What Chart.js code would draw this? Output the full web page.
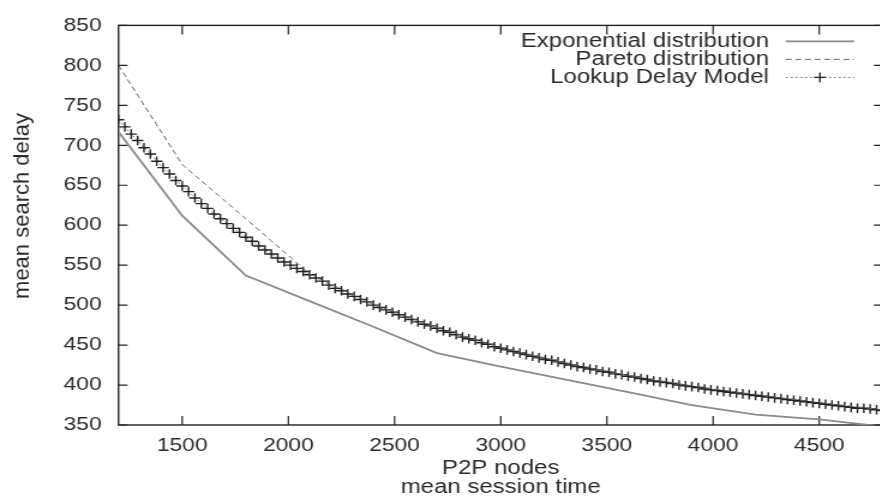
<!DOCTYPE html>
<html lang="en">
<head>
<meta charset="UTF-8">
<title>Mean search delay vs mean session time</title>
<script src="https://cdn.jsdelivr.net/npm/chart.js"></script>
<style>
  html, body { margin: 0; padding: 0; background: #fff; overflow: hidden; }
  /* the scanned figure is wider than tall: draw narrow, stretch horizontally */
  .wrap { width: 742px; height: 499px; transform: scaleX(1.2); transform-origin: 0 0; }
</style>
</head>
<body>
<div class="wrap"><canvas id="delayChart"></canvas></div>
<script>
const STRETCH = 1.2;

const xTicks = [1500, 2000, 2500, 3000, 3500, 4000, 4500];
const yTicks = [350, 400, 450, 500, 550, 600, 650, 700, 750, 800, 850];
const seriesNames = ['Exponential distribution', 'Pareto distribution', 'Lookup Delay Model'];

// simulated points (every 300 units of session time)
const sessionTimes = [1200, 1500, 1800, 2100, 2400, 2700, 3000, 3300, 3600, 3900, 4200, 4500, 4800];
const expDelay =     [717, 612, 537, 505, 473, 440, 423, 407, 391, 375, 363, 357, 348];
const paretoDelay =  [800, 676, 608, 539, 501, 472, 447, 428, 412, 399, 388, 378, 369];

// model curve, sampled densely
const modelTimes = [
  1200, 1230, 1260, 1290, 1320, 1350, 1380, 1410, 1440, 1470,
  1500, 1530, 1560, 1590, 1620, 1650, 1680, 1710, 1740, 1770,
  1800, 1830, 1860, 1890, 1920, 1950, 1980, 2010, 2040, 2070,
  2100, 2130, 2160, 2190, 2220, 2250, 2280, 2310, 2340, 2370,
  2400, 2430, 2460, 2490, 2520, 2550, 2580, 2610, 2640, 2670,
  2700, 2730, 2760, 2790, 2820, 2850, 2880, 2910, 2940, 2970,
  3000, 3030, 3060, 3090, 3120, 3150, 3180, 3210, 3240, 3270,
  3300, 3330, 3360, 3390, 3420, 3450, 3480, 3510, 3540, 3570,
  3600, 3630, 3660, 3690, 3720, 3750, 3780, 3810, 3840, 3870,
  3900, 3930, 3960, 3990, 4020, 4050, 4080, 4110, 4140, 4170,
  4200, 4230, 4260, 4290, 4320, 4350, 4380, 4410, 4440, 4470,
  4500, 4530, 4560, 4590, 4620, 4650, 4680, 4710, 4740, 4770,
  4800
];
const modelDelay = [
  732, 723, 714, 706, 697, 689, 680, 672, 664, 656,
  649, 642, 634, 627, 621, 614, 608, 602, 596, 591,
  585, 580, 574, 569, 564, 559, 554, 550, 546, 542,
  538, 534, 530, 525, 521, 518, 514, 511, 507, 504,
  500, 497, 494, 491, 488, 485, 482, 479, 476, 474,
  471, 468, 466, 463, 460, 458, 456, 453, 451, 448,
  446, 444, 442, 440, 438, 436, 434, 432, 431, 429,
  427, 425, 423, 422, 420, 419, 417, 416, 414, 413,
  411, 410, 408, 407, 405, 404, 403, 402, 400, 399,
  398, 397, 395, 394, 393, 392, 391, 390, 389, 388,
  387, 386, 385, 384, 383, 382, 381, 380, 379, 378,
  377, 376, 375, 374, 373, 372, 371, 371, 370, 369,
  368
];

const FONT = "'Liberation Sans', Arial, sans-serif";
const TEXT = '#2a2a2a';

const pairs = (xs, ys) => xs.map((x, i) => ({ x: x, y: ys[i] }));

// gnuplot-like frame with inward ticks, key in the top right, rotated y label
const gnuplotFrame = {
  id: 'gnuplotFrame',
  beforeDatasetsDraw(chart) {
    const { ctx, chartArea: a, scales: { x, y } } = chart;
    ctx.save();
    ctx.strokeStyle = '#222';
    ctx.lineWidth = 1.4;
    ctx.strokeRect(a.left, a.top, a.right - a.left, a.bottom - a.top);
    ctx.lineWidth = 1.2;
    ctx.beginPath();
    xTicks.forEach(v => {
      const px = x.getPixelForValue(v);
      ctx.moveTo(px, a.bottom); ctx.lineTo(px, a.bottom - 9);
      ctx.moveTo(px, a.top); ctx.lineTo(px, a.top + 9);
    });
    yTicks.forEach(v => {
      const py = y.getPixelForValue(v);
      ctx.moveTo(a.left, py); ctx.lineTo(a.left + 7.5, py);
      ctx.moveTo(a.right, py); ctx.lineTo(a.right - 7.5, py);
    });
    ctx.stroke();

    // y axis title, kept unstretched
    ctx.fillStyle = TEXT;
    ctx.font = '22px ' + FONT;
    ctx.textAlign = 'center';
    ctx.textBaseline = 'middle';
    ctx.translate(18.5, 206);
    ctx.scale(1 / STRETCH, 1);
    ctx.rotate(-Math.PI / 2);
    ctx.fillText('mean search delay', 0, 0);
    ctx.restore();
  },
  afterDatasetsDraw(chart) {
    const { ctx, chartArea: a } = chart;
    const textRight = a.right - 95;
    const lineFrom = a.right - 81, lineTo = a.right - 24;
    ctx.save();
    ctx.font = '20px ' + FONT;
    ctx.textAlign = 'right';
    ctx.textBaseline = 'middle';
    chart.data.datasets.forEach((ds, i) => {
      const yy = a.top + 16 + i * 18;
      ctx.fillStyle = TEXT;
      ctx.fillText(ds.label, textRight, yy);
      ctx.strokeStyle = ds.borderColor;
      ctx.lineWidth = ds.borderWidth;
      ctx.setLineDash(ds.borderDash || []);
      ctx.beginPath();
      ctx.moveTo(lineFrom, yy); ctx.lineTo(lineTo, yy);
      ctx.stroke();
      ctx.setLineDash([]);
      if (ds.pointStyle === 'cross') {
        const cx = (lineFrom + lineTo) / 2, r = ds.pointRadius;
        ctx.strokeStyle = ds.pointBorderColor;
        ctx.lineWidth = ds.pointBorderWidth;
        ctx.beginPath();
        ctx.moveTo(cx - r, yy); ctx.lineTo(cx + r, yy);
        ctx.moveTo(cx, yy - r); ctx.lineTo(cx, yy + r);
        ctx.stroke();
      }
    });
    ctx.restore();
  }
};

new Chart(document.getElementById('delayChart'), {
  type: 'line',
  data: {
    datasets: [
      {
        label: seriesNames[0],
        data: pairs(sessionTimes, expDelay),
        borderColor: '#8a8a8a',
        borderWidth: 1.8,
        pointRadius: 0
      },
      {
        label: seriesNames[1],
        data: pairs(sessionTimes, paretoDelay),
        borderColor: '#666',
        borderWidth: 1,
        borderDash: [5, 3],
        pointRadius: 0
      },
      {
        label: seriesNames[2],
        data: pairs(modelTimes, modelDelay),
        borderColor: '#888',
        borderWidth: 1,
        borderDash: [2, 2],
        pointStyle: 'cross',
        pointRadius: 4.8,
        pointBorderColor: '#222',
        pointBorderWidth: 1.4
      }
    ]
  },
  options: {
    responsive: true,
    maintainAspectRatio: false,
    animation: false,
    events: [],
    layout: { padding: { top: 25, right: 1, left: 0, bottom: 0 } },
    plugins: { legend: { display: false }, tooltip: { enabled: false } },
    scales: {
      x: {
        type: 'linear',
        min: 1200,
        max: 4800,
        afterBuildTicks: (scale) => { scale.ticks = xTicks.map(v => ({ value: v })); },
        afterFit: (scale) => { scale.height = 74; },
        grid: { display: false, drawTicks: false },
        border: { display: false },
        ticks: {
          color: TEXT, font: { family: FONT, size: 19 }, padding: 9, maxRotation: 0,
          callback: (v) => String(v)
        },
        title: {
          display: true,
          text: ['P2P nodes', 'mean session time'],
          color: TEXT,
          font: { family: FONT, size: 20, lineHeight: 0.95 },
          padding: { top: 0, bottom: 2.5 }
        }
      },
      y: {
        min: 350,
        max: 850,
        afterBuildTicks: (scale) => { scale.ticks = yTicks.map(v => ({ value: v })); },
        afterFit: (scale) => { scale.width = 98.75; },
        grid: { display: false, drawTicks: false },
        border: { display: false },
        ticks: { color: TEXT, font: { family: FONT, size: 19 }, padding: 14, callback: (v) => String(v) }
      }
    }
  },
  plugins: [gnuplotFrame]
});
</script>
</body>
</html>
